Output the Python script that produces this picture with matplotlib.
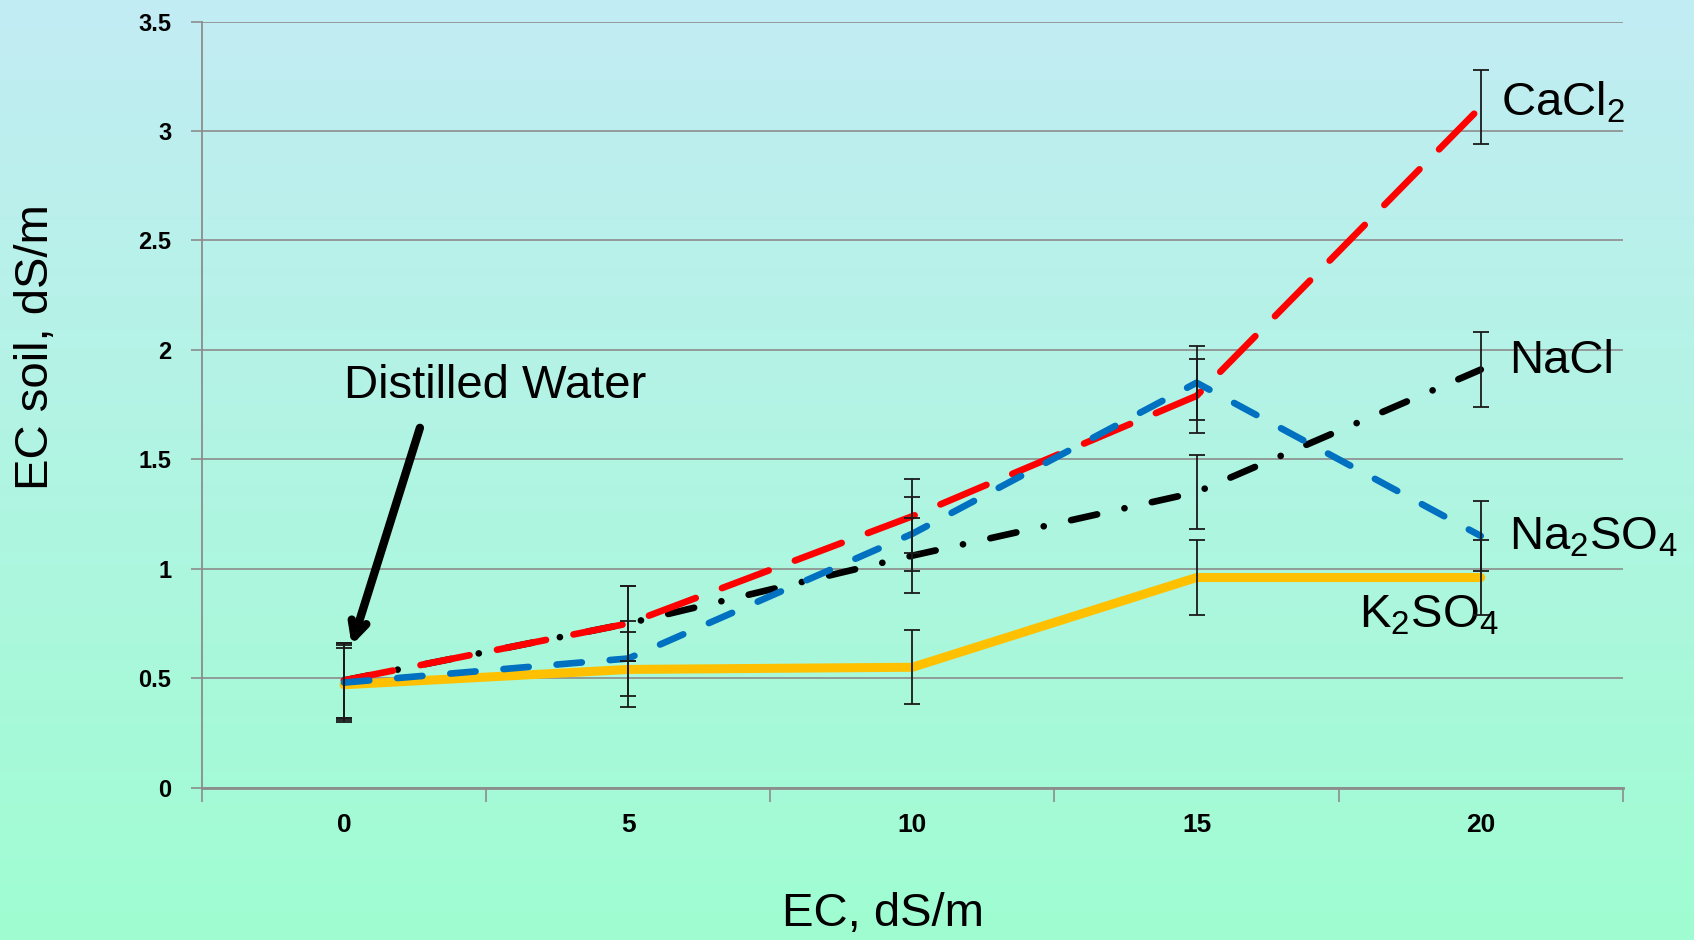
import numpy as np
import matplotlib
matplotlib.use("Agg")
import matplotlib.pyplot as plt
from matplotlib.colors import LinearSegmentedColormap

plt.rcParams['font.family'] = ['Liberation Sans', 'DejaVu Sans']
plt.rcParams['mathtext.fontset'] = 'custom'
plt.rcParams['mathtext.rm'] = 'Liberation Sans'
plt.rcParams['mathtext.default'] = 'regular'

# data
ec_levels = ['0', '5', '10', '15', '20']
cacl2 = [0.49, 0.75, 1.24, 1.79, 3.11]
nacl = [0.49, 0.75, 1.06, 1.35, 1.91]
na2so4 = [0.48, 0.59, 1.16, 1.85, 1.15]
k2so4 = [0.47, 0.54, 0.55, 0.96, 0.96]
err_cacl2 = [0.17, 0.17, 0.17, 0.17, 0.17]
err_nacl = [0.17, 0.17, 0.17, 0.17, 0.17]
err_na2so4 = [0.17, 0.17, 0.17, 0.17, 0.16]
err_k2so4 = [0.17, 0.17, 0.17, 0.17, 0.17]

fig = plt.figure(figsize=(16.94, 9.40), dpi=100)

# background gradient over the whole figure
bg = fig.add_axes([0, 0, 1, 1], zorder=-10)
cmap = LinearSegmentedColormap.from_list('bg', ['#c2ecf4', '#9ffdd1'])
bg.imshow(np.linspace(0, 1, 256).reshape(-1, 1), aspect='auto', cmap=cmap,
          extent=[0, 1, 0, 1])
bg.axis('off')

ax = fig.add_axes([0.1192, 0.1621, 0.8388, 0.8149])
ax.patch.set_alpha(0)
x = np.arange(len(ec_levels))

ax.plot(x, k2so4, color='#ffc000', lw=6.5, solid_capstyle='round', zorder=3)
ax.plot(x, nacl, color='black', lw=4.8, dashes=(4, 4.2, 0.01, 4.2),
        dash_capstyle='round', zorder=4)
ax.plot(x, cacl2, color='#ff0000', lw=4.8, dashes=(7.5, 4.2),
        dash_capstyle='round', zorder=5)
ax.plot(x, na2so4, color='#0070c0', lw=4.8, dashes=(3.8, 4.2),
        dash_capstyle='round', zorder=6)

for vals, err in [(cacl2, err_cacl2), (nacl, err_nacl),
                  (na2so4, err_na2so4), (k2so4, err_k2so4)]:
    ax.errorbar(x, vals, yerr=err, fmt='none', ecolor='#1a1a1a',
                elinewidth=1.3, capsize=6, capthick=1.3, zorder=7)

ax.set_xlim(-0.5, 4.5)
ax.set_ylim(0, 3.5)
ax.set_yticks(np.arange(0, 3.51, 0.5))
ax.set_yticklabels(['0', '0.5', '1', '1.5', '2', '2.5', '3', '3.5'],
                   fontsize=17, fontweight='bold')
ax.set_xticks(x)
ax.set_xticklabels(ec_levels, fontsize=19, fontweight='bold')
ax.set_xticks(np.arange(-0.5, 4.6, 1), minor=True)
ax.tick_params(axis='x', which='major', length=0, pad=18)
ax.tick_params(axis='x', which='minor', length=10, color='#8c8c8c', width=1.2)
ax.tick_params(axis='y', length=8, color='#8c8c8c', width=1.2, pad=14)
ax.grid(axis='y', color='#8c8c8c', lw=1.2)
ax.set_axisbelow(True)
for s in ['top', 'right']:
    ax.spines[s].set_visible(False)
ax.spines['left'].set_color('#8c8c8c')
ax.spines['left'].set_linewidth(1.3)
ax.spines['bottom'].set_color('#8c8c8c')
ax.spines['bottom'].set_linewidth(2)

fig.text(0.521, 0.028, 'EC, dS/m', fontsize=34, ha='center', va='center')
fig.text(0.021, 0.631, 'EC soil, dS/m', fontsize=34, rotation=90,
         ha='center', va='center')

ax.text(4.07, 3.13, 'CaCl$_2$', fontsize=34, va='center')
ax.text(4.10, 1.95, 'NaCl', fontsize=34, va='center')
ax.text(4.10, 1.145, 'Na$_2$SO$_4$', fontsize=34, va='center')
ax.text(3.57, 0.785, 'K$_2$SO$_4$', fontsize=34, va='center')
ax.annotate('', xy=(0.024, 0.638), xytext=(0.27, 1.656),
            arrowprops=dict(arrowstyle='->,head_length=1.1,head_width=0.55',
                            color='black', lw=6))
ax.text(0.0, 1.835, 'Distilled Water', fontsize=34, va='center')

fig.savefig('out.png', dpi=100)
